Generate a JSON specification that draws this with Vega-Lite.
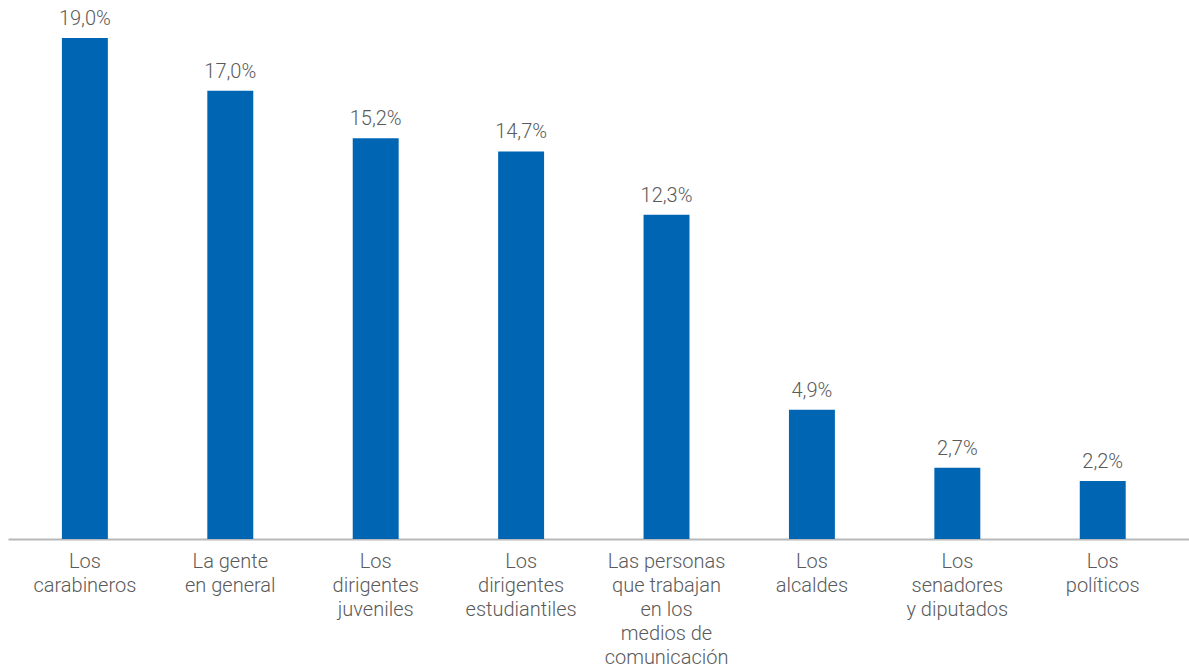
{
  "$schema": "https://vega.github.io/schema/vega-lite/v6.json",
  "width": 1181,
  "height": 493,
  "autosize": {"type": "none"},
  "padding": {"left": 8, "top": 46, "right": 0, "bottom": 130},
  "background": "white",
  "config": {"view": {"stroke": null}, "font": "Roboto"},
  "data": {
    "values": [
      {"cat": "Los|carabineros", "value": 19.0, "lbl": "19,0%"},
      {"cat": "La gente|en general", "value": 17.0, "lbl": "17,0%"},
      {"cat": "Los|dirigentes|juveniles", "value": 15.2, "lbl": "15,2%"},
      {"cat": "Los|dirigentes|estudiantiles", "value": 14.7, "lbl": "14,7%"},
      {"cat": "Las personas|que trabajan|en los|medios de|comunicación", "value": 12.3, "lbl": "12,3%"},
      {"cat": "Los|alcaldes", "value": 4.9, "lbl": "4,9%"},
      {"cat": "Los|senadores|y diputados", "value": 2.7, "lbl": "2,7%"},
      {"cat": "Los|políticos", "value": 2.2, "lbl": "2,2%"}
    ]
  },
  "encoding": {
    "x": {
      "field": "cat", "type": "nominal", "sort": null,
      "scale": {"paddingInner": 0.684, "paddingOuter": 0.403, "align": 0.46},
      "axis": {
        "title": null, "labelAngle": 0, "ticks": false,
        "domainColor": "#b8b8b8", "domainWidth": 2,
        "labelExpr": "split(datum.label, '|')",
        "labelFontSize": 20, "labelLineHeight": 24, "labelColor": "#5a5a5a",
        "labelPadding": 12, "labelBaseline": "top", "labelFontWeight": 300
      }
    },
    "y": {
      "field": "value", "type": "quantitative",
      "scale": {"domain": [0, 18.7], "nice": false, "zero": true},
      "axis": null
    }
  },
  "layer": [
    {"mark": {"type": "bar", "color": "#0066b3"}},
    {
      "mark": {"type": "text", "baseline": "alphabetic", "dy": -13, "fontSize": 20, "color": "#5a5a5a", "fontWeight": 300},
      "encoding": {"text": {"field": "lbl"}}
    }
  ]
}
